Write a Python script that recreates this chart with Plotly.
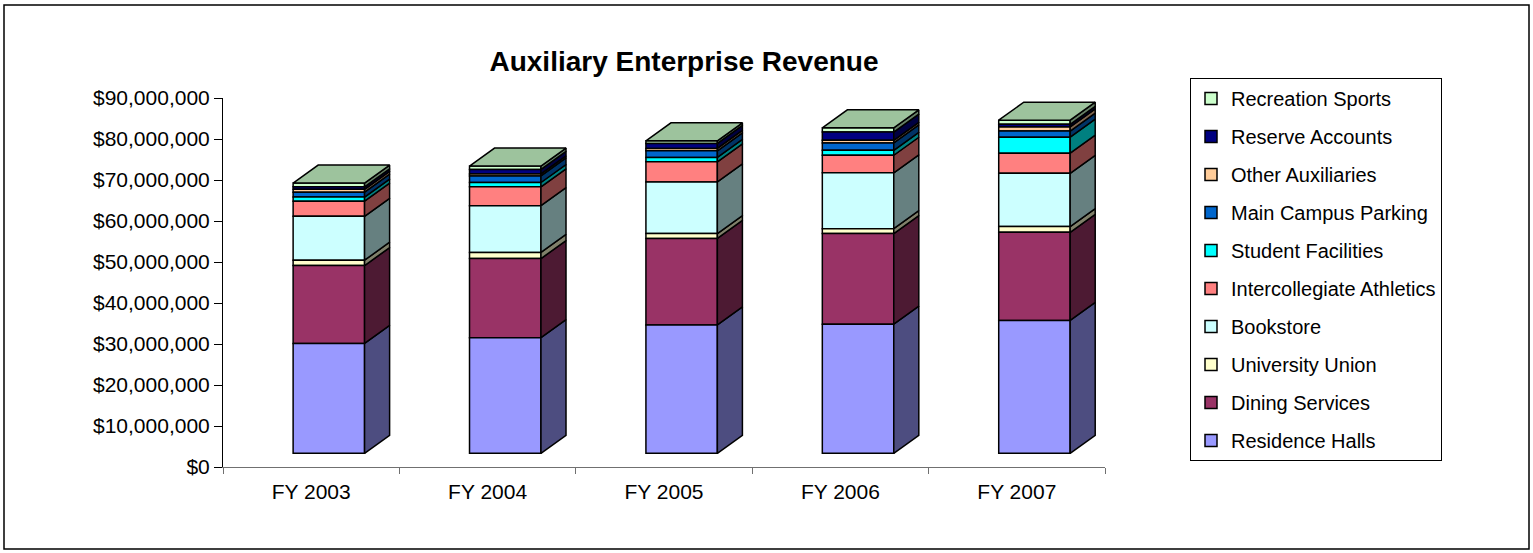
import plotly.graph_objects as go

# ---------------- data (US$) ----------------
categories = ["FY 2003", "FY 2004", "FY 2005", "FY 2006", "FY 2007"]
series_names = ["Residence Halls", "Dining Services", "University Union", "Bookstore",
                "Intercollegiate Athletics", "Student Facilities", "Main Campus Parking",
                "Other Auxiliaries", "Reserve Accounts", "Recreation Sports"]
residence_halls = [26.8e6, 28.2e6, 31.3e6, 31.5e6, 32.4e6]
dining_services = [19.0e6, 19.3e6, 21.1e6, 22.1e6, 21.5e6]
university_union = [1.3e6, 1.5e6, 1.2e6, 1.2e6, 1.4e6]
bookstore = [10.7e6, 11.4e6, 12.6e6, 13.6e6, 13.0e6]
intercollegiate_athletics = [3.7e6, 4.6e6, 4.9e6, 4.3e6, 4.9e6]
student_facilities = [1.0e6, 1.05e6, 1.07e6, 1.2e6, 3.9e6]
main_campus_parking = [1.2e6, 1.6e6, 1.6e6, 1.8e6, 1.5e6]
other_auxiliaries = [0.7e6, 0.5e6, 0.6e6, 0.65e6, 1.0e6]
reserve_accounts = [0.6e6, 1.1e6, 1.2e6, 2.0e6, 0.65e6]
recreation_sports = [0.9e6, 0.8e6, 0.65e6, 1.05e6, 1.0e6]
y_tick_values = [0, 10e6, 20e6, 30e6, 40e6, 50e6, 60e6, 70e6, 80e6, 90e6]

series_values = [residence_halls, dining_services, university_union, bookstore,
                 intercollegiate_athletics, student_facilities, main_campus_parking,
                 other_auxiliaries, reserve_accounts, recreation_sports]

# ---------------- styles ----------------
front_colors = ["#9999FF", "#993366", "#FFFFCC", "#CCFFFF", "#FF8080",
                "#00FFFF", "#0066CC", "#FFCC99", "#000080", "#CCFFCC"]
side_colors = ["#4D4D80", "#4D1A33", "#80806A", "#668080", "#804040",
               "#008080", "#003366", "#806650", "#000040", "#668066"]
top_color = "#9DC39D"
FONT = "Liberation Sans, Arial, sans-serif"
EDGE = dict(color="black", width=1.5)

# geometry of the oblique 3-D look (axis units)
bar_shift = 0.1      # front face centre offset from category centre
bar_width = 0.405
depth_dx = 0.142
depth_dy = 4.39e6
floor_lift = 3.34e6  # bars stand back from the front edge of the floor

n = len(categories)
fig = go.Figure()

cum = [0.0] * n
bases = []
for vals in series_values:
    bases.append([floor_lift + c for c in cum])
    cum = [c + v for c, v in zip(cum, vals)]

# front faces (legend in reverse order: last series at top)
for i in reversed(range(len(series_names))):
    fig.add_trace(go.Bar(
        x=[k + bar_shift for k in range(n)], y=series_values[i], base=bases[i],
        width=bar_width, name=series_names[i], legendgroup=series_names[i],
        marker=dict(color=front_colors[i], line=EDGE),
        hoverinfo="skip"))

# side faces
for i in range(len(series_names)):
    xs, ys = [], []
    for k in range(n):
        xr = k + bar_shift + bar_width / 2
        y0 = bases[i][k]
        y1 = y0 + series_values[i][k]
        xs += [xr, xr + depth_dx, xr + depth_dx, xr, xr, None]
        ys += [y0, y0 + depth_dy, y1 + depth_dy, y1, y0, None]
    fig.add_trace(go.Scatter(x=xs, y=ys, mode="lines", fill="toself",
                             fillcolor=side_colors[i], line=EDGE,
                             showlegend=False, hoverinfo="skip", cliponaxis=False))

# top faces
xs, ys = [], []
for k in range(n):
    xl = k + bar_shift - bar_width / 2
    xr = k + bar_shift + bar_width / 2
    yt = floor_lift + cum[k]
    xs += [xl, xl + depth_dx, xr + depth_dx, xr, xl, None]
    ys += [yt, yt + depth_dy, yt + depth_dy, yt, yt, None]
fig.add_trace(go.Scatter(x=xs, y=ys, mode="lines", fill="toself", fillcolor=top_color,
                         line=EDGE, showlegend=False, hoverinfo="skip", cliponaxis=False))

W, H = 1533, 553
L, R, T, B = 223, 428, 98, 86
pw, ph = W - L - R, H - T - B

fig.update_layout(
    width=W, height=H,
    margin=dict(l=L, r=R, t=T, b=B, pad=0),
    barmode="overlay",
    paper_bgcolor="white", plot_bgcolor="white",
    font=dict(family=FONT, size=21, color="black"),
    title=dict(text="<b>Auxiliary Enterprise Revenue</b>",
               font=dict(family=FONT, size=28, color="black"),
               x=(684 - L) / pw, xref="paper", xanchor="center",
               y=1 - 61 / H, yref="container", yanchor="middle"),
    xaxis=dict(range=[-0.5, n - 0.5], tickmode="array", tickvals=list(range(n)),
               ticktext=categories, ticks="", showgrid=False, zeroline=False,
               showline=True, linecolor="#707070", linewidth=1,
               ticklabelstandoff=6,
               tickfont=dict(family=FONT, size=21),
               minor=dict(tickmode="array", tickvals=[k - 0.5 for k in range(n + 1)],
                          ticks="outside", ticklen=6, tickcolor="#707070", showgrid=False)),
    yaxis=dict(range=[0, 90e6], tickmode="array", tickvals=y_tick_values,
               tickformat="$,.0f", ticks="outside", ticklen=8, tickcolor="black",
               showgrid=False, zeroline=False, showline=True, linecolor="black",
               linewidth=1, tickfont=dict(family=FONT, size=21)),
    legend=dict(x=(1190 - L) / pw, xanchor="left", y=(H - B - 78) / ph, yanchor="top",
                traceorder="grouped", tracegroupgap=9, maxheight=520,
                bordercolor="black", borderwidth=1, bgcolor="white",
                font=dict(family=FONT, size=20, color="black")),
    shapes=[dict(type="rect", xref="paper", yref="paper",
                 x0=(4 - L) / pw, x1=(1529 - L) / pw,
                 y0=(H - B - 549) / ph, y1=(H - B - 5) / ph,
                 line=dict(color="black", width=1.5), fillcolor="rgba(0,0,0,0)",
                 layer="below")],
)

fig.write_html("out.html", config={"displayModeBar": False},
               post_script="document.body.style.margin='0px';")
